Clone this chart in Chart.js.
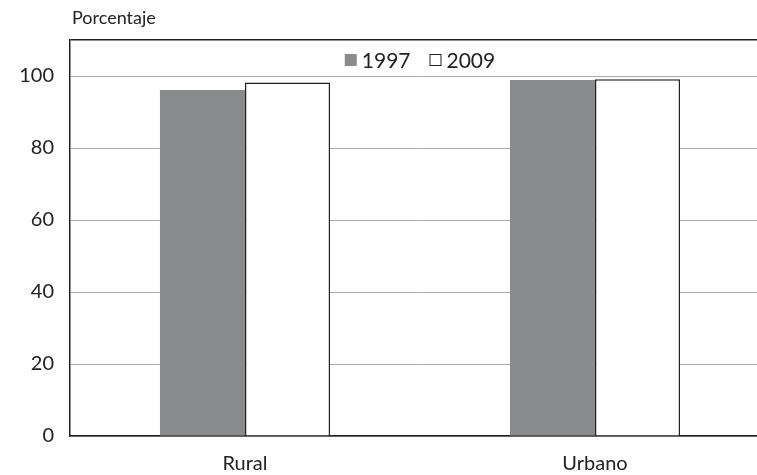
<!DOCTYPE html>
<html>
<head>
<meta charset="utf-8">
<script src="https://cdn.jsdelivr.net/npm/chart.js@4"></script>
<style>
  body { margin: 0; overflow: hidden; background: #fff; }
  #wrap { width: 770px; height: 475px; }
</style>
</head>
<body>
<div id="wrap"><canvas id="barras"></canvas></div>
<script>
const Categorias = ['Rural', 'Urbano'];
const Anios = ['1997', '2009'];
const Valores1997 = [96.1, 98.9];
const Valores2009 = [98.2, 99.1];
const TicksY = [0, 20, 40, 60, 80, 100, 110];
const TituloY = 'Porcentaje';

const FUENTE = 'Lato, "Open Sans", sans-serif';

// leyenda dentro del area del grafico, centrada arriba
const leyendaInterna = {
  id: 'leyendaInterna',
  afterDraw(chart) {
    const c = chart.ctx;
    const area = chart.chartArea;
    c.save();
    c.font = '21px ' + FUENTE;
    c.textBaseline = 'middle';
    const caja = 12, gap = 5, sep = 19;
    const items = chart.data.datasets.map(d => ({ t: d.label, w: c.measureText(d.label).width, bg: d.backgroundColor }));
    let total = 0;
    items.forEach((it, i) => { total += caja + gap + it.w + (i ? sep : 0); });
    let x = (area.left + area.right) / 2 - total / 2;
    const y = area.top + 20;
    items.forEach((it, i) => {
      if (i) x += sep;
      c.fillStyle = it.bg;
      c.fillRect(x, y - caja / 2, caja, caja);
      if (it.bg === '#ffffff') {
        c.strokeStyle = '#222';
        c.lineWidth = 1;
        c.strokeRect(x + 0.5, y - caja / 2 + 0.5, caja - 1, caja - 1);
      }
      x += caja + gap;
      c.fillStyle = '#222';
      c.fillText(it.t, x, y + 1);
      x += it.w;
    });
    // titulo del eje y
    c.font = '18px ' + FUENTE;
    c.textBaseline = 'alphabetic';
    c.fillText(TituloY, area.left + 2, 24);
    c.restore();
  }
};

const ctx = document.getElementById('barras').getContext('2d');
const grafico = new Chart(ctx, {
  type: 'bar',
  data: {
    labels: Categorias,
    datasets: [{
      label: Anios[0],
      data: Valores1997,
      backgroundColor: '#8a8b8d',
      borderColor: '#8a8b8d',
      borderWidth: 0
    }, {
      label: Anios[1],
      data: Valores2009,
      backgroundColor: '#ffffff',
      borderColor: '#222222',
      borderWidth: 1.5
    }]
  },
  options: {
    responsive: true,
    maintainAspectRatio: false,
    animation: false,
    layout: { padding: { top: 40, right: 0, left: 0, bottom: 0 } },
    datasets: { bar: { categoryPercentage: 0.486, barPercentage: 1 } },
    scales: {
      x: {
        afterFit: s => { s.height = 39; },
        grid: { display: false },
        border: { color: '#222', width: 1.5 },
        ticks: { color: '#222', font: { family: FUENTE, size: 20 }, padding: 8 }
      },
      y: {
        min: 0,
        max: 110,
        afterBuildTicks: s => { s.ticks = TicksY.map(v => ({ value: v })); },
        afterFit: s => { s.width = 70; },
        grid: {
          drawTicks: false,
          color: c => (c.tick && (c.tick.value === 110)) ? '#222' : '#aaaaaa',
          lineWidth: c => (c.tick && c.tick.value === 110) ? 1.5 : 1
        },
        border: { color: '#222', width: 1.5 },
        ticks: {
          color: '#222',
          font: { family: FUENTE, size: 20 },
          padding: 16,
          callback: v => (v === 110 ? '' : v)
        }
      }
    },
    plugins: {
      legend: { display: false },
      tooltip: { enabled: false }
    }
  },
  plugins: [leyendaInterna]
});
</script>
</body>
</html>
